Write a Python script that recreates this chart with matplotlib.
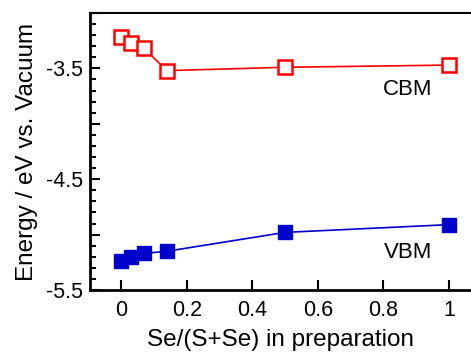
import numpy as np
import matplotlib
matplotlib.use("Agg")
import matplotlib.pyplot as plt
from matplotlib.ticker import MultipleLocator

plt.rcParams['font.family'] = ['Liberation Sans', 'DejaVu Sans']

# data
se_ratio = [0, 0.03, 0.07, 0.14, 0.5, 1.0]
cbm = [-3.22, -3.27, -3.32, -3.52, -3.49, -3.47]
vbm = [-5.24, -5.20, -5.17, -5.15, -4.98, -4.91]
ytick_labels = {-3.5: '-3.5', -4.5: '-4.5', -5.5: '-5.5'}

fig = plt.figure(figsize=(4.71, 3.52), dpi=100)
ax = fig.add_axes([90 / 471, 62 / 352, 381 / 471, 277 / 352])

ax.plot(se_ratio, cbm, color='#ff0000', lw=1.2, marker='s', ms=10.5,
        mfc='white', mec='#ff0000', mew=1.8)
ax.plot(se_ratio, vbm, color='#0000cc', lw=1.2, marker='s', ms=10.5,
        mfc='#0000cc', mec='#0000cc', mew=1.0)

ax.text(0.948, -3.686, 'CBM', fontsize=16, ha='right', va='center')
ax.text(0.948, -5.164, 'VBM', fontsize=16, ha='right', va='center')

ax.set_xlim(-0.095, 1.067)
ax.set_ylim(-5.5, -3.0)

ax.set_xticks([0, 0.2, 0.4, 0.6, 0.8, 1.0])
ax.set_xticklabels(['0', '0.2', '0.4', '0.6', '0.8', '1'])

ax.yaxis.set_minor_locator(MultipleLocator(0.1))
yt = np.arange(-5.5, -2.99, 0.5)
ax.set_yticks(yt)
ax.set_yticklabels([ytick_labels.get(round(v, 1), '') for v in yt])

ax.tick_params(axis='both', which='major', direction='in', length=7, width=1.5,
               labelsize=15.5, pad=5)
ax.tick_params(axis='both', which='minor', direction='in', length=4, width=1.5)
ax.tick_params(axis='x', which='major', pad=7)
ax.tick_params(axis='x', which='minor', length=0)

ax.spines['right'].set_visible(False)
ax.spines['left'].set_linewidth(2)
ax.spines['bottom'].set_linewidth(2)
ax.spines['top'].set_linewidth(1.5)

ax.set_xlabel('Se/(S+Se) in preparation', fontsize=17.5, labelpad=6)
ax.set_ylabel('Energy / eV vs. Vacuum', fontsize=17.5, labelpad=6)

fig.savefig('out.png', dpi=100)
